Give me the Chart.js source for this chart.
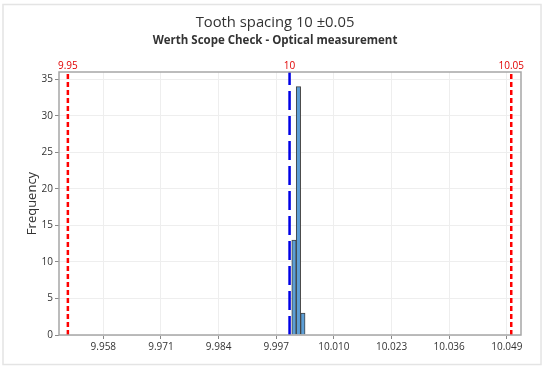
<!DOCTYPE html>
<html>
<head>
<meta charset="utf-8">
<script src="https://cdn.jsdelivr.net/npm/chart.js@4.4.1/dist/chart.umd.min.js"></script>
<style>
html,body{margin:0;padding:0;background:#fff;}
#wrap{width:550px;height:372px;position:relative;}
</style>
</head>
<body>
<div id="wrap"><canvas id="c" width="550" height="372"></canvas></div>
<script>
// ---- data ----
const titleText = 'Tooth spacing 10 ±0.05';
const subtitleText = 'Werth Scope Check - Optical measurement';
const yAxisTitle = 'Frequency';
const binCenters = [10.001, 10.002, 10.003];
const frequencies = [13, 34, 3];
const xTickValues = [9.958, 9.971, 9.984, 9.997, 10.010, 10.023, 10.036, 10.049];
const yTickValues = [0, 5, 10, 15, 20, 25, 30, 35];
const lowerSpec = 9.95;
const nominal = 10;
const upperSpec = 10.05;
const specLabels = ['9.95', '10', '10.05'];
const xMin = 9.948, xMax = 10.0522, yMax = 36;

const FONT = '"Open Sans", "Noto Sans", sans-serif';

const decor = {
  id: 'decor',
  beforeDraw(chart) {
    const ctx = chart.ctx;
    ctx.save();
    ctx.strokeStyle = '#e4e4e4';
    ctx.lineWidth = 1.5;
    ctx.strokeRect(3, 4.5, 538, 360);
    ctx.restore();
  },
  afterDraw(chart) {
    const ctx = chart.ctx, a = chart.chartArea, xs = chart.scales.x;
    ctx.save();
    ctx.strokeStyle = '#a6a6a6';
    ctx.lineWidth = 1.5;
    ctx.strokeRect(a.left, a.top, a.right - a.left, a.bottom - a.top);
    ctx.fillStyle = '#333';
    ctx.textAlign = 'center';
    ctx.textBaseline = 'middle';
    ctx.font = '14.8px ' + FONT;
    ctx.fillText(titleText, 275, 23);
    ctx.font = 'bold 11.5px ' + FONT;
    ctx.fillText(subtitleText, 275, 41);
    ctx.fillStyle = '#e00000';
    ctx.font = '10px ' + FONT;
    [lowerSpec, nominal, upperSpec].forEach((v, i) => {
      ctx.fillText(specLabels[i], xs.getPixelForValue(v), 66);
    });
    ctx.restore();
  }
};

const vline = (v, color, dash) => ({
  type: 'line',
  data: [{x: v, y: 0}, {x: v, y: yMax}],
  borderColor: color,
  borderWidth: 2.5,
  borderDash: dash,
  pointRadius: 0,
  fill: false,
  order: 0
});

new Chart(document.getElementById('c'), {
  type: 'bar',
  data: {
    datasets: [
      {
        type: 'bar',
        data: binCenters.map((x, i) => ({x, y: frequencies[i]})),
        backgroundColor: '#5c9ed6',
        borderColor: '#404040',
        borderWidth: 1,
        barPercentage: 1,
        categoryPercentage: 1,
        order: 1
      },
      vline(lowerSpec, '#ff0000', [5, 3]),
      vline(nominal, '#0000e6', [19, 6]),
      vline(upperSpec, '#ff0000', [5, 3])
    ]
  },
  options: {
    responsive: false,
    animation: false,
    events: [],
    layout: {padding: {top: 72, left: 24, right: 29, bottom: 0}},
    plugins: {legend: {display: false}, tooltip: {enabled: false}, title: {display: false}},
    scales: {
      x: {
        type: 'linear',
        offset: false,
        min: xMin, max: xMax,
        afterBuildTicks: s => { s.ticks = xTickValues.map(v => ({value: v})); },
        afterFit: s => { s.height = 37; },
        ticks: {
          callback: v => Number(v).toFixed(3),
          color: '#333', font: {family: FONT, size: 10}, padding: 2, maxRotation: 0, autoSkip: false
        },
        grid: {offset: false, color: '#eeeeee', tickColor: '#888', tickLength: 4, drawTicks: true},
        border: {display: false}
      },
      y: {
        type: 'linear',
        min: 0, max: yMax,
        afterBuildTicks: s => { s.ticks = yTickValues.map(v => ({value: v})); },
        afterFit: s => { s.width = 35; },
        ticks: {color: '#333', font: {family: FONT, size: 10}, padding: 2},
        grid: {color: '#eeeeee', tickColor: '#888', tickLength: 4, drawTicks: true},
        border: {display: false},
        title: {display: true, text: yAxisTitle, color: '#333', font: {family: FONT, size: 13}, padding: 0}
      }
    }
  },
  plugins: [decor]
});
</script>
</body>
</html>
